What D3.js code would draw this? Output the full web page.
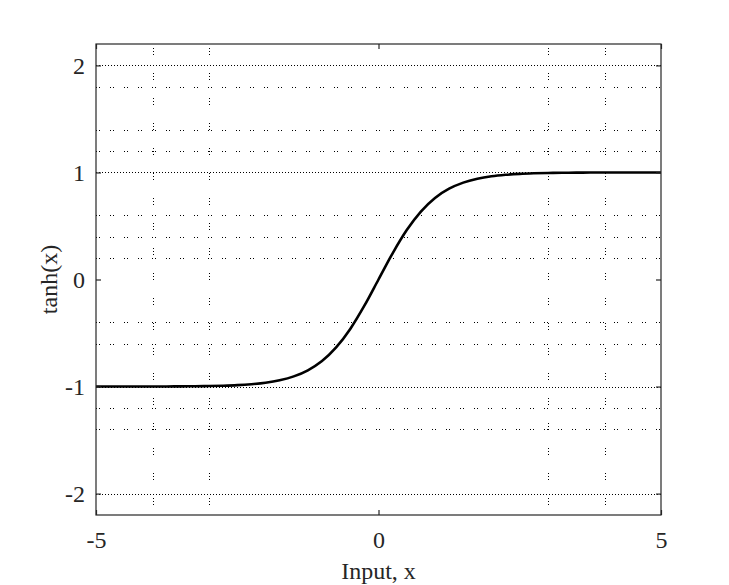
<!DOCTYPE html>
<html>
<head>
<meta charset="utf-8">
<script src="https://cdn.jsdelivr.net/npm/d3@7"></script>
<style>
  body { margin: 0; background: #fff; }
  text { font-family: "Liberation Serif", "Times New Roman", serif; fill: #262626; }
</style>
</head>
<body>
<div id="chart"></div>
<script>
// values
var xValues = [-5, -4.75, -4.5, -4.25, -4, -3.75, -3.5, -3.25, -3, -2.75, -2.5, -2.25, -2,
               -1.75, -1.5, -1.25, -1, -0.75, -0.5, -0.25, 0, 0.25, 0.5, 0.75, 1, 1.25,
               1.5, 1.75, 2, 2.25, 2.5, 2.75, 3, 3.25, 3.5, 3.75, 4, 4.25, 4.5, 4.75, 5];
var yValues = [-1.000, -1.000, -1.000, -1.000, -0.999, -0.999, -0.998, -0.997, -0.995, -0.992,
               -0.987, -0.978, -0.964, -0.941, -0.905, -0.848, -0.762, -0.635, -0.462, -0.245,
               0.000, 0.245, 0.462, 0.635, 0.762, 0.848, 0.905, 0.941, 0.964, 0.978, 0.987,
               0.992, 0.995, 0.997, 0.998, 0.999, 0.999, 1.000, 1.000, 1.000, 1.000];
var xTicks = [-5, 0, 5];
var yTicks = [-2, -1, 0, 1, 2];
var xGrid = [-4, -3, 3, 4];
var yMajorGrid = [-2, -1, 1, 2];
var yMinorGrid = [-1.4, -1.2, -0.6, -0.4, 0.2, 0.4, 0.6, 1.2, 1.4, 1.8];

var margin = {top: 44, right: 68, bottom: 70, left: 96},
    width = 729 - margin.left - margin.right,
    height = 585 - margin.top - margin.bottom;

var x = d3.scaleLinear().domain([-5, 5]).range([0, width]);
var y = d3.scaleLinear().domain([-2.2, 2.2]).range([height, 0]);

var svg = d3.select("#chart").append("svg")
    .attr("width", 729)
    .attr("height", 585)
  .append("g")
    .attr("transform", "translate(" + margin.left + "," + margin.top + ")");

// grid
svg.selectAll(".vgrid").data(xGrid).enter().append("line")
    .attr("x1", function(d) { return Math.round(x(d)) + 0.5; })
    .attr("x2", function(d) { return Math.round(x(d)) + 0.5; })
    .attr("y1", 0).attr("y2", height)
    .attr("stroke", "#000").attr("stroke-width", 1)
    .attr("stroke-dasharray", "1,2,1,2,1,18")
    .attr("stroke-dashoffset", -4);

svg.selectAll(".hminor").data(yMinorGrid).enter().append("line")
    .attr("x1", 0).attr("x2", width)
    .attr("y1", function(d) { return Math.round(y(d)) + 0.5; })
    .attr("y2", function(d) { return Math.round(y(d)) + 0.5; })
    .attr("stroke", "#000").attr("stroke-width", 1)
    .attr("stroke-dasharray", "1,2,1,10");

svg.selectAll(".hmajor").data(yMajorGrid).enter().append("line")
    .attr("x1", 0).attr("x2", width)
    .attr("y1", function(d) { return Math.round(y(d)) + 0.5; })
    .attr("y2", function(d) { return Math.round(y(d)) + 0.5; })
    .attr("stroke", "#000").attr("stroke-width", 1)
    .attr("stroke-dasharray", "1,2");

// curve
var line = d3.line()
    .x(function(d, i) { return x(xValues[i]); })
    .y(function(d) { return y(d); })
    .curve(d3.curveMonotoneX);

svg.append("path")
    .datum(yValues)
    .attr("fill", "none")
    .attr("stroke", "#000")
    .attr("stroke-width", 2.6)
    .attr("d", line);

// box
svg.append("rect")
    .attr("x", 0).attr("y", 0)
    .attr("width", width).attr("height", height)
    .attr("fill", "none")
    .attr("stroke", "#262626")
    .attr("stroke-width", 1.2);

// axes (hyphen minus, integer labels)
var fmt = function(d) { return String(d); };
var xAxis = d3.axisBottom(x).tickValues(xTicks).tickFormat(fmt).tickSizeInner(-5).tickSizeOuter(0).tickPadding(16);
var yAxis = d3.axisLeft(y).tickValues(yTicks).tickFormat(fmt).tickSizeInner(-5).tickSizeOuter(0).tickPadding(11);

var gx = svg.append("g")
    .attr("transform", "translate(0," + height + ")")
    .call(xAxis);
var gy = svg.append("g").call(yAxis);

svg.append("g")
    .call(d3.axisTop(x).tickValues(xTicks).tickSizeInner(-5).tickSizeOuter(0).tickFormat(""));
svg.append("g")
    .attr("transform", "translate(" + width + ",0)")
    .call(d3.axisRight(y).tickValues(yTicks).tickSizeInner(-5).tickSizeOuter(0).tickFormat(""));

svg.selectAll(".domain").remove();
svg.selectAll(".tick line").attr("stroke", "#262626").attr("stroke-width", 1.2);
gx.selectAll("text").style("font-size", "24px").style("font-family", "Liberation Serif").attr("fill", "#262626");
gy.selectAll("text").style("font-size", "24px").style("font-family", "Liberation Serif").attr("fill", "#262626");

// labels
svg.append("text")
    .attr("x", width / 2)
    .attr("y", height + 64)
    .attr("text-anchor", "middle")
    .style("font-size", "24px")
    .text("Input, x");

svg.append("text")
    .attr("transform", "translate(" + (57 - margin.left) + "," + (height / 2) + ") rotate(-90)")
    .attr("text-anchor", "middle")
    .style("font-size", "24px")
    .text("tanh(x)");
</script>
</body>
</html>
